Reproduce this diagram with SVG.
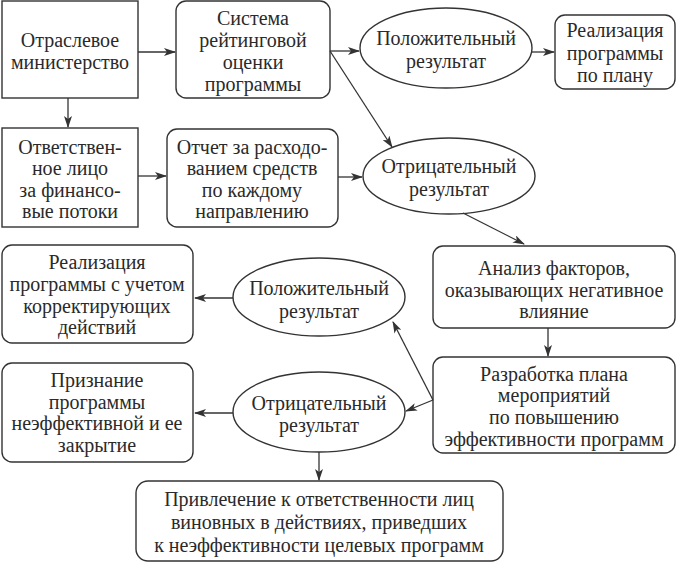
<svg xmlns="http://www.w3.org/2000/svg" width="677" height="563" viewBox="0 0 677 563">
<defs>
<style>
rect,ellipse{fill:#fff;stroke:#333;stroke-width:1.4}
text{font-family:"Liberation Serif","DejaVu Serif",serif;font-size:20px;fill:#2a2a2a;text-anchor:middle}
.c line{stroke:#333;stroke-width:1.3;fill:none;marker-end:url(#a)}
</style>
<marker id="a" viewBox="0 0 12 8" refX="11" refY="4" markerWidth="12" markerHeight="8" markerUnits="userSpaceOnUse" orient="auto">
<path d="M0,0 L12,4 L0,8 L3,4 Z" fill="#333"/>
</marker>
</defs>
<rect width="677" height="563" style="fill:#fff;stroke:none"/>
<g id="n1"><rect x="2" y="1" width="136" height="97"/><text x="70" y="47">Отраслевое</text><text x="70" y="69">министерство</text></g>
<g id="n2"><rect x="176" y="1" width="154" height="97" rx="10"/><text x="253" y="25">Система</text><text x="253" y="47">рейтинговой</text><text x="253" y="69">оценки</text><text x="253" y="91">программы</text></g>
<g id="n3"><ellipse cx="446" cy="48" rx="86" ry="40"/><text x="446" y="45">Положительный</text><text x="446" y="68">результат</text></g>
<g id="n4"><rect x="555" y="15" width="120" height="74" rx="10"/><text x="615" y="37">Реализация</text><text x="615" y="60">программы</text><text x="615" y="82">по плану</text></g>
<g id="n5"><rect x="2" y="128" width="136" height="99"/><text x="70" y="154">Ответствен-</text><text x="70" y="175">ное лицо</text><text x="70" y="197">за финансо-</text><text x="70" y="218">вые потоки</text></g>
<g id="n6"><rect x="167" y="129" width="171" height="98" rx="10"/><text x="252" y="154">Отчет за расходо-</text><text x="252" y="175">ванием средств</text><text x="252" y="197">по каждому</text><text x="252" y="218">направлению</text></g>
<g id="n7"><ellipse cx="449" cy="176" rx="86" ry="38"/><text x="449" y="173">Отрицательный</text><text x="449" y="196">результат</text></g>
<g id="n8"><rect x="433" y="246" width="242" height="82" rx="10"/><text x="554" y="275">Анализ факторов,</text><text x="554" y="297">оказывающих негативное</text><text x="554" y="318">влияние</text></g>
<g id="n9"><rect x="433" y="357" width="242" height="96" rx="10"/><text x="554" y="381">Разработка плана</text><text x="554" y="402">мероприятий</text><text x="554" y="424">по повышению</text><text x="554" y="446">эффективности программ</text></g>
<g id="n10"><ellipse cx="319" cy="297" rx="86" ry="39"/><text x="319" y="295">Положительный</text><text x="319" y="318">результат</text></g>
<g id="n11"><ellipse cx="319" cy="412" rx="86" ry="40"/><text x="319" y="410">Отрицательный</text><text x="319" y="432">результат</text></g>
<g id="n12"><rect x="2" y="245" width="191" height="98" rx="10"/><text x="97" y="269">Реализация</text><text x="97" y="291">программы с учетом</text><text x="97" y="313">корректирующих</text><text x="97" y="334">действий</text></g>
<g id="n13"><rect x="2" y="363" width="191" height="99" rx="10"/><text x="97" y="387">Признание</text><text x="97" y="409">программы</text><text x="97" y="430">неэффективной и ее</text><text x="97" y="452">закрытие</text></g>
<g id="n14"><rect x="136" y="481" width="367" height="80" rx="12"/><text x="319" y="506">Привлечение к ответственности лиц</text><text x="319" y="529">виновных в действиях, приведших</text><text x="319" y="552">к неэффективности целевых программ</text></g>
<g class="c" id="connectors">
<line x1="138" y1="52" x2="175" y2="52"/>
<line x1="68" y1="98" x2="68" y2="127"/>
<line x1="138" y1="176" x2="166" y2="176"/>
<line x1="330" y1="51" x2="359" y2="51"/>
<line x1="531" y1="52" x2="554" y2="52"/>
<line x1="330" y1="51" x2="392" y2="147"/>
<line x1="338" y1="177" x2="362" y2="177"/>
<line x1="463" y1="213" x2="524" y2="244"/>
<line x1="548" y1="328" x2="548" y2="356"/>
<line x1="433" y1="400" x2="393" y2="322"/>
<line x1="433" y1="400" x2="406" y2="411"/>
<line x1="233" y1="298" x2="195" y2="298"/>
<line x1="233" y1="413" x2="195" y2="413"/>
<line x1="319" y1="452" x2="319" y2="480"/>
</g>
</svg>
